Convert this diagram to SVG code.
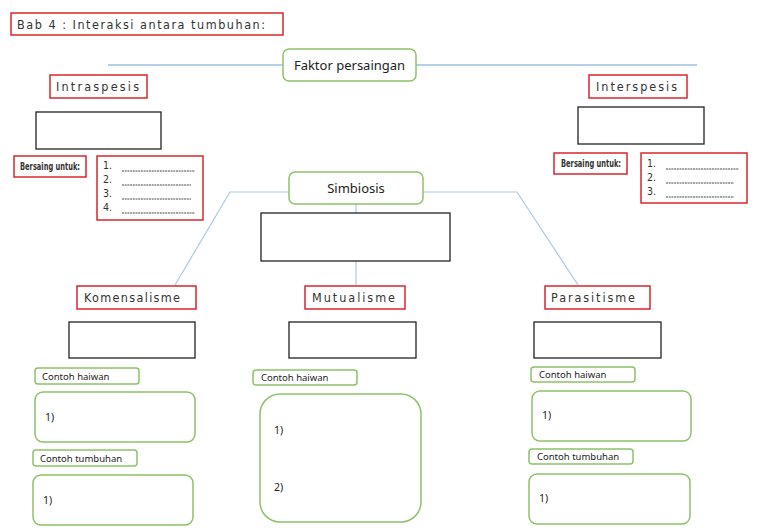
<svg xmlns="http://www.w3.org/2000/svg" width="768" height="532" viewBox="0 0 768 532">
<style>
.red{fill:#fff;stroke:#d9262c;stroke-width:1.5}
.blk{fill:#fff;stroke:#222;stroke-width:1.3}
.grn{fill:#fff;stroke:#8fc16a;stroke-width:1.5}
.cond{font-family:"Liberation Sans Narrow","DejaVu Sans Condensed","Liberation Sans",sans-serif;fill:#333}
.hd{font-size:12.5px}
.sm{font-size:10px;font-weight:bold}
.lst{font-size:10.5px}
.cm{font-family:"Noto Sans","Liberation Sans",sans-serif;fill:#222}
.conn{fill:none;stroke-width:1.2}
.ul{stroke:#333;stroke-width:0.9;stroke-dasharray:2,0.7}
</style>
<rect width="768" height="532" fill="#fff"/>
<g id="connectors">
<line class="conn" x1="108" y1="65" x2="283" y2="65" stroke="#6aa3d4"/>
<line class="conn" x1="416" y1="65" x2="697" y2="65" stroke="#6aa3d4"/>
<polyline class="conn" points="289,192 230,192 175,285" stroke="#a8c9e8"/>
<polyline class="conn" points="423,192 517,192 578,285" stroke="#a8c9e8"/>
<line class="conn" x1="356" y1="204" x2="356" y2="285" stroke="#a8c9e8"/>
</g>
<g id="title"><rect class="red" x="11" y="13" width="272" height="22"/><text class="cond hd" x="17" y="29" textLength="248" lengthAdjust="spacing">Bab 4 : Interaksi antara tumbuhan:</text></g>
<g id="faktor"><rect class="grn" x="283" y="49" width="133" height="32" rx="6"/><text class="cm" x="349.5" y="70" font-size="13" text-anchor="middle">Faktor persaingan</text></g>
<g id="intraspesis"><rect class="red" x="50" y="75" width="97" height="23"/><text class="cond hd" x="56" y="91" textLength="83" lengthAdjust="spacing">Intraspesis</text></g>
<g id="intra-box"><rect class="blk" x="36" y="112" width="125" height="37"/></g>
<g id="intra-bersaing"><rect class="red" x="14" y="156" width="72" height="21"/><text class="cond sm" x="20" y="170" textLength="60" lengthAdjust="spacingAndGlyphs">Bersaing untuk:</text></g>
<g id="intra-list"><rect class="red" x="97" y="156" width="106" height="64"/>
<text class="cond lst" x="103" y="169">1.</text><text class="cond lst" x="103" y="183">2.</text><text class="cond lst" x="103" y="197">3.</text><text class="cond lst" x="103" y="211">4.</text>
<g class="ul"><line x1="122" y1="171" x2="195" y2="171"/><line x1="122" y1="185" x2="191" y2="185"/><line x1="122" y1="199" x2="191" y2="199"/><line x1="122" y1="213" x2="195" y2="213"/></g></g>
<g id="interspesis"><rect class="red" x="589" y="75" width="98" height="23"/><text class="cond hd" x="596" y="91" textLength="81" lengthAdjust="spacing">Interspesis</text></g>
<g id="inter-box"><rect class="blk" x="578" y="107" width="126" height="37"/></g>
<g id="inter-bersaing"><rect class="red" x="554" y="153" width="73" height="21"/><text class="cond sm" x="561" y="167" textLength="60" lengthAdjust="spacingAndGlyphs">Bersaing untuk:</text></g>
<g id="inter-list"><rect class="red" x="641" y="153" width="106" height="50"/>
<text class="cond lst" x="647" y="167">1.</text><text class="cond lst" x="647" y="181">2.</text><text class="cond lst" x="647" y="195">3.</text>
<g class="ul"><line x1="666" y1="169" x2="739" y2="169"/><line x1="666" y1="183" x2="734" y2="183"/><line x1="666" y1="197" x2="734" y2="197"/></g></g>
<g id="simbiosis"><rect class="grn" x="289" y="172" width="134" height="32" rx="6"/><text class="cm" x="356" y="193" font-size="13" text-anchor="middle">Simbiosis</text></g>
<g id="simb-box"><rect class="blk" x="261" y="213" width="189" height="48"/></g>
<g id="komensalisme"><rect class="red" x="77" y="286" width="119" height="23"/><text class="cond hd" x="84" y="302" textLength="96" lengthAdjust="spacing">Komensalisme</text></g>
<g id="kom-box"><rect class="blk" x="69" y="322" width="126" height="36"/></g>
<g id="kom-haiwan"><rect class="grn" x="35" y="368" width="104" height="16" rx="3"/><text class="cm" x="42" y="380" font-size="9.5">Contoh haiwan</text></g>
<g id="kom-haiwan-box"><rect class="grn" x="35" y="392" width="160" height="50" rx="8"/><text class="cm" x="45" y="421" font-size="10.5">1)</text></g>
<g id="kom-tumbuhan"><rect class="grn" x="33" y="450" width="104" height="16" rx="3"/><text class="cm" x="40" y="462" font-size="9.5">Contoh tumbuhan</text></g>
<g id="kom-tumbuhan-box"><rect class="grn" x="33" y="475" width="160" height="50" rx="8"/><text class="cm" x="43" y="504" font-size="10.5">1)</text></g>
<g id="mutualisme"><rect class="red" x="305" y="286" width="100" height="23"/><text class="cond hd" x="312" y="302" textLength="83" lengthAdjust="spacing">Mutualisme</text></g>
<g id="mut-box"><rect class="blk" x="289" y="322" width="127" height="36"/></g>
<g id="mut-haiwan"><rect class="grn" x="253" y="370" width="104" height="15" rx="3"/><text class="cm" x="261" y="381" font-size="9.5">Contoh haiwan</text></g>
<g id="mut-haiwan-box"><rect class="grn" x="260" y="394" width="161" height="128" rx="20"/><text class="cm" x="274" y="434" font-size="10.5">1)</text><text class="cm" x="274" y="491" font-size="10.5">2)</text></g>
<g id="parasitisme"><rect class="red" x="545" y="286" width="105" height="23"/><text class="cond hd" x="551" y="302" textLength="84" lengthAdjust="spacing">Parasitisme</text></g>
<g id="par-box"><rect class="blk" x="534" y="322" width="127" height="36"/></g>
<g id="par-haiwan"><rect class="grn" x="531" y="367" width="104" height="15" rx="3"/><text class="cm" x="539" y="378" font-size="9.5">Contoh haiwan</text></g>
<g id="par-haiwan-box"><rect class="grn" x="532" y="391" width="159" height="50" rx="8"/><text class="cm" x="542" y="419" font-size="10.5">1)</text></g>
<g id="par-tumbuhan"><rect class="grn" x="529" y="449" width="104" height="15" rx="3"/><text class="cm" x="537" y="460" font-size="9.5">Contoh tumbuhan</text></g>
<g id="par-tumbuhan-box"><rect class="grn" x="529" y="474" width="161" height="50" rx="8"/><text class="cm" x="539" y="502" font-size="10.5">1)</text></g>
</svg>
